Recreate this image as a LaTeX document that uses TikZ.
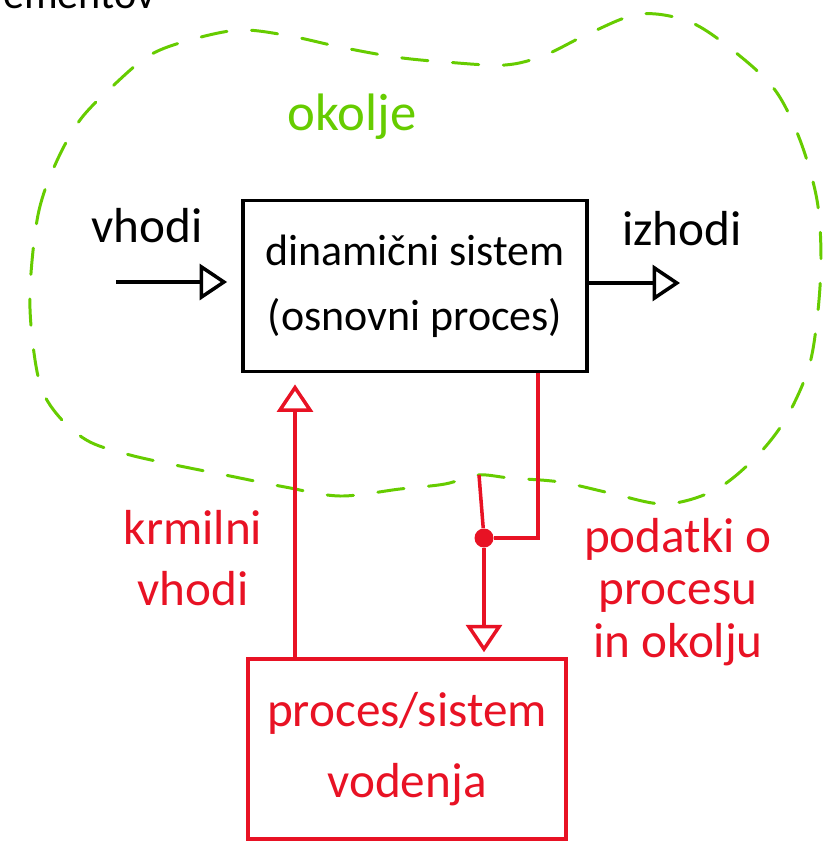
\documentclass[tikz,border=0pt]{standalone}
\usepackage{fontspec}
\setmainfont{Carlito}
\usetikzlibrary{arrows.meta}
\definecolor{rdeca}{RGB}{232,18,36}
\definecolor{zelena}{RGB}{102,204,0}
\begin{document}
\begin{tikzpicture}[x=0.02cm, y=-0.02cm,
    blok/.style = {draw, rectangle, line width=2.2pt, align=center, inner sep=0pt},
    napis/.style = {align=center, font=\fontsize{28}{35}\selectfont},
    sig/.style = {line width=2pt, -{Triangle[open, length=0.55cm, width=0.72cm]}},
    krm/.style = {sig, draw=rdeca},
    pot/.style = {line width=2pt, draw=rdeca},
    okolje/.style = {draw=zelena, line width=1.7pt, line cap=round, dash pattern=on 15pt off 14pt}]
    \useasboundingbox (0,0) rectangle (826,842);
    \clip (0,0) rectangle (826,842);
    \node[anchor=base west, font=\fontsize{24}{28}\selectfont] (naslov) at (-3,8) {ementov};
    \draw[okolje] plot[smooth cycle, tension=0.55] coordinates {
        (30,290) (38,215) (55,165) (80,120) (115,84) (150,55) (190,40) (240,30)
        (290,36) (340,47) (395,57) (445,62) (505,65) (545,55) (590,33) (640,14)
        (690,22) (735,52) (775,90) (800,140) (817,200) (821,260) (817,320) (808,370)
        (785,420) (755,458) (715,490) (665,504) (610,493) (560,482) (510,478) (478,475)
        (445,484) (400,489) (340,496) (285,487) (230,476) (175,465) (130,455) (90,442)
        (62,420) (42,390) (33,345)};
    \node[napis, text=zelena, anchor=base, font=\fontsize{30}{35}\selectfont] (okolica) at (352,130) {okolje};
    \node[blok, minimum width=6.88cm, minimum height=3.42cm, font=\fontsize{25}{37}\selectfont]
        (sistem) at (415,286) {dinamični sistem\\(osnovni proces)};
    \node[blok, draw=rdeca, text=rdeca, line width=2pt, minimum width=6.36cm, minimum height=3.6cm,
        font=\fontsize{28}{40}\selectfont] (vodenje) at (407,749) {proces/sistem\\vodenja};
    \node[napis, anchor=base] (vhodi) at (147,242) {vhodi};
    \node[napis, anchor=base] (izhodi) at (682,245) {izhodi};
    \node[napis, text=rdeca] (krmilni) at (193,558) {krmilni\\vhodi};
    \node[napis, text=rdeca, font=\fontsize{28}{30}\selectfont] (podatki) at (678,592) {podatki o\\procesu\\in okolju};
    \coordinate (vh) at (116,282);
    \coordinate (izh) at (680,283);
    \coordinate (k) at (295,0);
    \coordinate (d) at (538,0);
    \coordinate (meja) at (479,475);
    \node[circle, fill=rdeca, inner sep=0pt, minimum size=0.38cm] (spoj) at (484,538) {};
    \draw[sig, shorten >=0.28cm] (vh) -- (vh -| sistem.west);
    \draw[sig] (izh -| sistem.east) -- (izh);
    \draw[krm, shorten >=0.22cm] (k |- vodenje.north) -- (k |- sistem.south);
    \draw[pot] (d |- sistem.south) -- (d |- spoj) -- (spoj);
    \draw[pot] (meja) -- (spoj);
    \draw[krm, shorten >=0.1cm] (spoj) -- (spoj |- vodenje.north);
\end{tikzpicture}
\end{document}
